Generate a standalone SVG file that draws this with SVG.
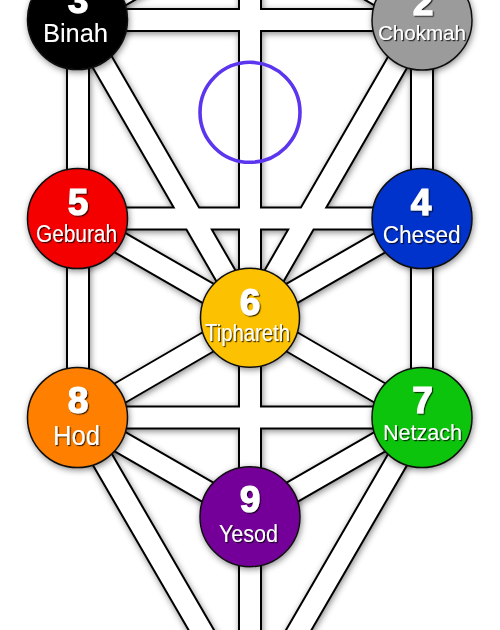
<svg xmlns="http://www.w3.org/2000/svg" width="500" height="630" viewBox="0 0 500 630">
<defs>
<filter id="sh" x="-20%" y="-20%" width="140%" height="140%">
<feDropShadow dx="1" dy="2" stdDeviation="3" flood-color="#000" flood-opacity="0.45"/>
</filter>
<filter id="ts" x="-20%" y="-20%" width="140%" height="140%">
<feDropShadow dx="1.2" dy="1.2" stdDeviation="0.6" flood-color="#000" flood-opacity="0.75"/>
</filter>
</defs>
<style>
.ob{stroke:#000;stroke-width:24;fill:none}
.iw{stroke:#fff;stroke-width:20;fill:none}
.node circle{stroke:#111;stroke-width:1.5}
.num{font-family:"Liberation Sans",Arial,sans-serif;font-weight:bold;font-size:37px;fill:#fff;stroke:#fff;stroke-width:1.2;text-anchor:middle;filter:url(#ts)}
.nm{font-family:"Liberation Sans",Arial,sans-serif;fill:#fff;text-anchor:middle;filter:url(#ts)}
</style>
<rect width="500" height="630" fill="#fff"/>
<g id="connectors" filter="url(#sh)">
<g class="ob">
<path id="p-links" d="M250,-79L422,20 M250,-79L78,20 M250,-79L250,317.5 M422,20L78,20 M422,20L250,317.5 M422,20L422,218.5 M78,20L250,317.5 M78,20L78,218.5 M422,218.5L78,218.5 M422,218.5L250,317.5 M422,218.5L422,417.5 M78,218.5L250,317.5 M78,218.5L78,417.5 M250,317.5L422,417.5 M250,317.5L250,516.5 M250,317.5L78,417.5 M422,417.5L78,417.5 M422,417.5L250,516.5 M422,417.5L250,714 M250,516.5L250,714 M78,417.5L250,516.5 M78,417.5L250,714"/>
</g>
<g class="iw">
<path d="M250,-79L422,20 M250,-79L78,20 M250,-79L250,317.5 M422,20L78,20 M422,20L250,317.5 M422,20L422,218.5 M78,20L250,317.5 M78,20L78,218.5 M422,218.5L78,218.5 M422,218.5L250,317.5 M422,218.5L422,417.5 M78,218.5L250,317.5 M78,218.5L78,417.5 M250,317.5L422,417.5 M250,317.5L250,516.5 M250,317.5L78,417.5 M422,417.5L78,417.5 M422,417.5L250,516.5 M422,417.5L250,714 M250,516.5L250,714 M78,417.5L250,516.5 M78,417.5L250,714"/>
</g>
</g>
<g id="daath">
<circle cx="250" cy="112.3" r="50" fill="none" stroke="#5b36ee" stroke-width="3.6"/>
</g>
<g id="binah" class="node" filter="url(#sh)">
<circle cx="77.5" cy="19.5" r="50" fill="#000"/>
<text class="num" x="78" y="13">3</text>
<text class="nm" x="75.5" y="42" font-size="26" textLength="65" lengthAdjust="spacingAndGlyphs">Binah</text>
</g>
<g id="chokmah" class="node" filter="url(#sh)">
<circle cx="422" cy="20" r="50" fill="#9b9b9b"/>
<text class="num" x="423" y="15">2</text>
<text class="nm" x="422" y="40" font-size="21" textLength="88" lengthAdjust="spacingAndGlyphs">Chokmah</text>
</g>
<g id="geburah" class="node" filter="url(#sh)">
<circle cx="77.5" cy="218.5" r="50" fill="#f40000"/>
<text class="num" x="78" y="215">5</text>
<text class="nm" x="76.5" y="242" font-size="23" textLength="81" lengthAdjust="spacingAndGlyphs">Geburah</text>
</g>
<g id="chesed" class="node" filter="url(#sh)">
<circle cx="422" cy="218.5" r="50" fill="#0433cc"/>
<text class="num" x="421" y="215">4</text>
<text class="nm" x="421.7" y="243" font-size="23" textLength="78" lengthAdjust="spacingAndGlyphs">Chesed</text>
</g>
<g id="tiphareth" class="node" filter="url(#sh)">
<circle cx="250" cy="317.8" r="49.5" fill="#fcc100"/>
<text class="num" x="250" y="315">6</text>
<text class="nm" x="247.5" y="341" font-size="24" textLength="85" lengthAdjust="spacingAndGlyphs">Tiphareth</text>
</g>
<g id="hod" class="node" filter="url(#sh)">
<circle cx="77.5" cy="417.5" r="50" fill="#ff8000"/>
<text class="num" x="78" y="413">8</text>
<text class="nm" x="76.5" y="445" font-size="27" textLength="47" lengthAdjust="spacingAndGlyphs">Hod</text>
</g>
<g id="netzach" class="node" filter="url(#sh)">
<circle cx="422" cy="417.5" r="50" fill="#10c410"/>
<text class="num" x="422.5" y="413">7</text>
<text class="nm" x="422.5" y="440" font-size="21.5" textLength="79" lengthAdjust="spacingAndGlyphs">Netzach</text>
</g>
<g id="yesod" class="node" filter="url(#sh)">
<circle cx="250" cy="516.7" r="50" fill="#740499"/>
<text class="num" x="250" y="512">9</text>
<text class="nm" x="248.5" y="541.5" font-size="23" textLength="59" lengthAdjust="spacingAndGlyphs">Yesod</text>
</g>
</svg>
